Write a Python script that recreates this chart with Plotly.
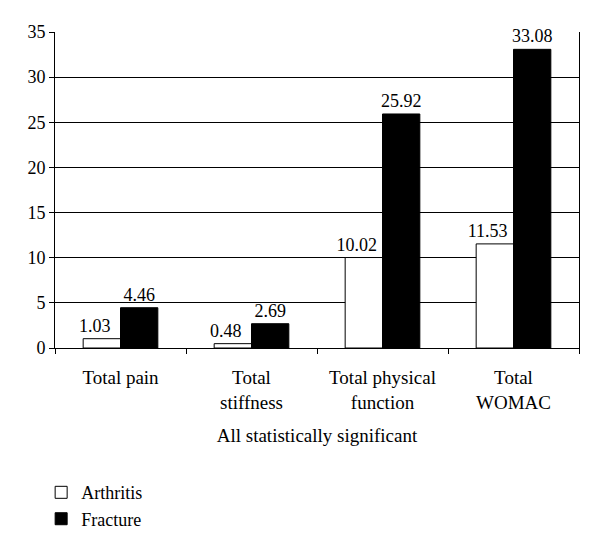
import plotly.graph_objects as go

categories = ["Total pain", "Total<br>stiffness", "Total physical<br>function", "Total<br>WOMAC"]
arthritis = [1.03, 0.48, 10.02, 11.53]
fracture = [4.46, 2.69, 25.92, 33.08]
y_ticks = [0, 5, 10, 15, 20, 25, 30, 35]

FONT = "Liberation Serif, Times New Roman, serif"
FS = 19
LFS = 18

fig = go.Figure()
fig.add_trace(go.Bar(
    name="Arthritis", x=categories, y=arthritis, offsetgroup="a",
    marker=dict(color="white", line=dict(color="black", width=1)),
))
fig.add_trace(go.Bar(
    name="Fracture", x=categories, y=fracture, offsetgroup="f",
    marker=dict(color="black", line=dict(color="black", width=1)),
    text=[f"{v:.2f}" for v in fracture], textposition="outside",
    constraintext="none",
    textfont=dict(family=FONT, size=LFS, color="black"), cliponaxis=False,
))
# label layer for Arthritis values, nudged left so it clears the black bar
fig.add_trace(go.Bar(
    name="Arthritis", x=categories, y=arthritis,
    width=0.285, offset=-0.34,
    marker=dict(color="rgba(0,0,0,0)", line=dict(width=0)),
    text=[f"{v:.2f}" for v in arthritis], textposition="outside",
    constraintext="none", showlegend=False, hoverinfo="skip",
    textfont=dict(family=FONT, size=LFS, color="black"), cliponaxis=False,
))

fig.update_layout(
    width=592, height=542,
    margin=dict(l=47, r=21, t=24, b=202, autoexpand=False),
    paper_bgcolor="white", plot_bgcolor="white",
    font=dict(family=FONT, size=FS, color="black"),
    barmode="group", bargap=0.43, bargroupgap=0,
    showlegend=True,
    legend=dict(
        orientation="v", xref="container", yref="container",
        x=0.056, y=0.14, xanchor="left", yanchor="top",
        font=dict(family=FONT, size=18, color="black"),
        itemwidth=30, tracegroupgap=0,
    ),
    xaxis=dict(
        type="category", showline=True, linecolor="black", linewidth=1,
        ticks="outside", tickson="boundaries", ticklen=5, tickcolor="black",
        showgrid=False, mirror=False, ticklabelstandoff=12,
        title=dict(text="All statistically significant", standoff=17,
                   font=dict(family=FONT, size=FS, color="black")),
        tickfont=dict(family=FONT, size=FS, color="black"),
    ),
    yaxis=dict(
        range=[0, 35], tickvals=y_ticks, showline=True, linecolor="black",
        linewidth=1, mirror=True, ticks="outside", ticklen=5, tickcolor="black",
        showgrid=True, gridcolor="black", gridwidth=1, zeroline=False,
        tickfont=dict(family=FONT, size=18, color="black"),
    ),
)

fig.write_html("out.html")
